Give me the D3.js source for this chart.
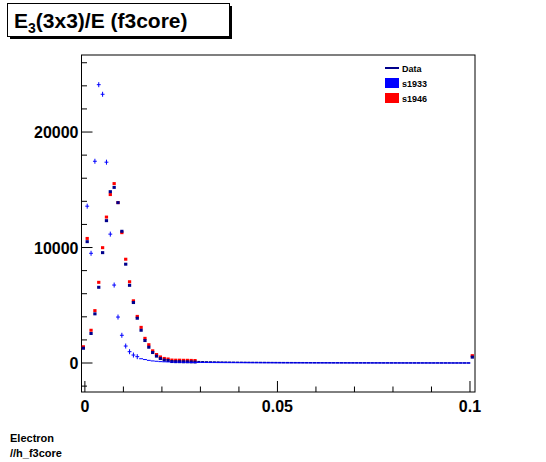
<!DOCTYPE html>
<html><head><meta charset="utf-8">
<script src="https://cdn.jsdelivr.net/npm/d3@7"></script>
<style>body{margin:0;background:#fff}text{font-family:"Liberation Sans",Arial,sans-serif;font-weight:bold}</style>
</head><body><svg id="c" width="546" height="462"></svg>
<script>
const binStart = -0.0009, binWidth = 0.001;
const dataVals = [null,13580,9500,17470,24100,23270,17390,11160,6750,3980,2400,1470,980,690,550,370,300,230,180,150,120,
 105,95,85,78,72,66,60,56,52,48,45,42,40,38,36,34,32,30,29,28,27,26,25,24,23,22,21,20,20,19,18,18,17,16,16,15,15,14,14,13,13,12,12,11,11,10,10,10,9,9,9,8,8,8,7,7,7,6,6,6,6,5,5,5,5,4,4,4,4,3,3,3,3,3,2,2,2,2,2,2,null];
const s1933Vals = [1320,10550,2600,4300,6600,9600,12370,14880,15250,13930,11450,8600,6770,5280,3920,2880,1990,1410,950,640,430,300,260,170,160,160,150,150,
 140,130,120,110,100,95,90,85,80,75,70,65,60,58,55,52,50,48,46,44,42,40,38,36,34,33,32,31,30,29,28,27,26,25,24,23,22,21,20,20,19,18,18,17,16,16,15,15,14,14,13,13,12,12,11,11,10,10,10,9,9,9,8,8,8,7,7,7,6,6,6,6,5,550];
const s1946Vals = [1320,10700,2750,4450,6900,9900,12550,14500,15450,13800,11200,8900,6950,5300,3950,3000,2050,1500,970,650,440,310,260,170,160,160,150,150,
 140,130,120,110,100,95,90,85,80,75,70,65,60,58,55,52,50,48,46,44,42,40,38,36,34,33,32,31,30,29,28,27,26,25,24,23,22,21,20,20,19,18,18,17,16,16,15,15,14,14,13,13,12,12,11,11,10,10,10,9,9,9,8,8,8,7,7,7,6,6,6,6,5,550];
const xTicks = [0, 0.05, 0.1];
const yTicks = [0, 10000, 20000];
const legendItems = [["Data","line","#00008b"],["s1933","box","#0000ff"],["s1946","box","#ff0000"]];

const svg = d3.select("#c");
const L=81.5,R=475,T=55,B=392;
const x = d3.scaleLinear().domain([-0.00088,0.1013]).range([L,R]);
const y = d3.scaleLinear().domain([-2510,26670]).range([B,T]);
const cx = i => x(binStart + (i+0.5)*binWidth);
const hw = (x(binWidth)-x(0))/2;

svg.append("rect").attr("x",L).attr("y",T).attr("width",R-L).attr("height",B-T).attr("fill","none").attr("stroke","#000");

const yMinor = d3.range(-2000,26001,2000);
svg.selectAll(".ym").data(yMinor).join("line").attr("x1",L).attr("x2",d=>L+(d%10000===0?11:5.5))
 .attr("y1",d=>y(d)).attr("y2",d=>y(d)).attr("stroke","#000");
svg.selectAll(".yl").data(yTicks).join("text").attr("x",L-3).attr("y",d=>y(d)+6).attr("text-anchor","end")
 .attr("font-size",16).text(d=>d);
const xMinor = d3.range(0,0.1001,0.01);
svg.selectAll(".xm").data(xMinor).join("line").attr("x1",d=>x(d)).attr("x2",d=>x(d)).attr("y1",B)
 .attr("y2",(d,i)=>B-(i%5===0?11:5.5)).attr("stroke","#000");
svg.selectAll(".xl").data(xTicks).join("text").attr("x",d=>x(d)).attr("y",B+20).attr("text-anchor","middle")
 .attr("font-size",16).text(d=>d);

const big = d => d[1] > 120 || d[0] > 100;
const box = (vals,col,dy,onlyBig)=>svg.append("g").selectAll("rect")
 .data(vals.map((v,i)=>[i,v]).filter(d=>d[1]!=null && (!onlyBig || big(d))))
 .join("rect").attr("x",d=>cx(d[0])-hw+0.3).attr("width",2*hw-0.6)
 .attr("y",d=>y(d[1])-(big(d)?1.5:0.7)+(big(d)?dy:0)).attr("height",d=>big(d)?3:1.4).attr("fill",col);
box(s1946Vals,"#ff0000",-1,true);
box(s1933Vals,"#00008b",0.5,false);
const dg = svg.append("g").attr("stroke","#0000ff").attr("stroke-width",1);
dataVals.forEach((v,i)=>{ if(v==null) return;
 dg.append("line").attr("x1",cx(i)-hw).attr("x2",cx(i)+hw).attr("y1",y(v)).attr("y2",y(v));
 if(v>500) dg.append("line").attr("x1",cx(i)).attr("x2",cx(i)).attr("y1",y(v)-2.5).attr("y2",y(v)+2.5);
});

const lg = svg.append("g").attr("transform","translate(385,68)");
legendItems.forEach((d,i)=>{
 const g = lg.append("g").attr("transform",`translate(0,${i*15})`);
 if(d[1]==="line") g.append("line").attr("x1",0).attr("x2",14).attr("y1",0).attr("y2",0).attr("stroke",d[2]).attr("stroke-width",2);
 else g.append("rect").attr("x",0).attr("y",-5).attr("width",14).attr("height",10).attr("fill",d[2]);
 g.append("text").attr("x",17).attr("y",3.5).attr("font-size",9).text(d[0]);
});

svg.append("rect").attr("x",10).attr("y",6).attr("width",222).attr("height",33).attr("fill","#000");
svg.append("rect").attr("x",7.5).attr("y",3.5).attr("width",222).attr("height",33).attr("fill","#fff").attr("stroke","#000");
const t = svg.append("text").attr("x",14).attr("y",28).attr("font-size",21);
t.append("tspan").text("E");
t.append("tspan").attr("font-size",14).attr("dy",5).text("3");
t.append("tspan").attr("dy",-5).text("(3x3)/E (f3core)");

svg.append("text").attr("x",10).attr("y",442).attr("font-size",11).text("Electron");
svg.append("text").attr("x",10).attr("y",457).attr("font-size",11).text("//h_f3core");
</script></body></html>
